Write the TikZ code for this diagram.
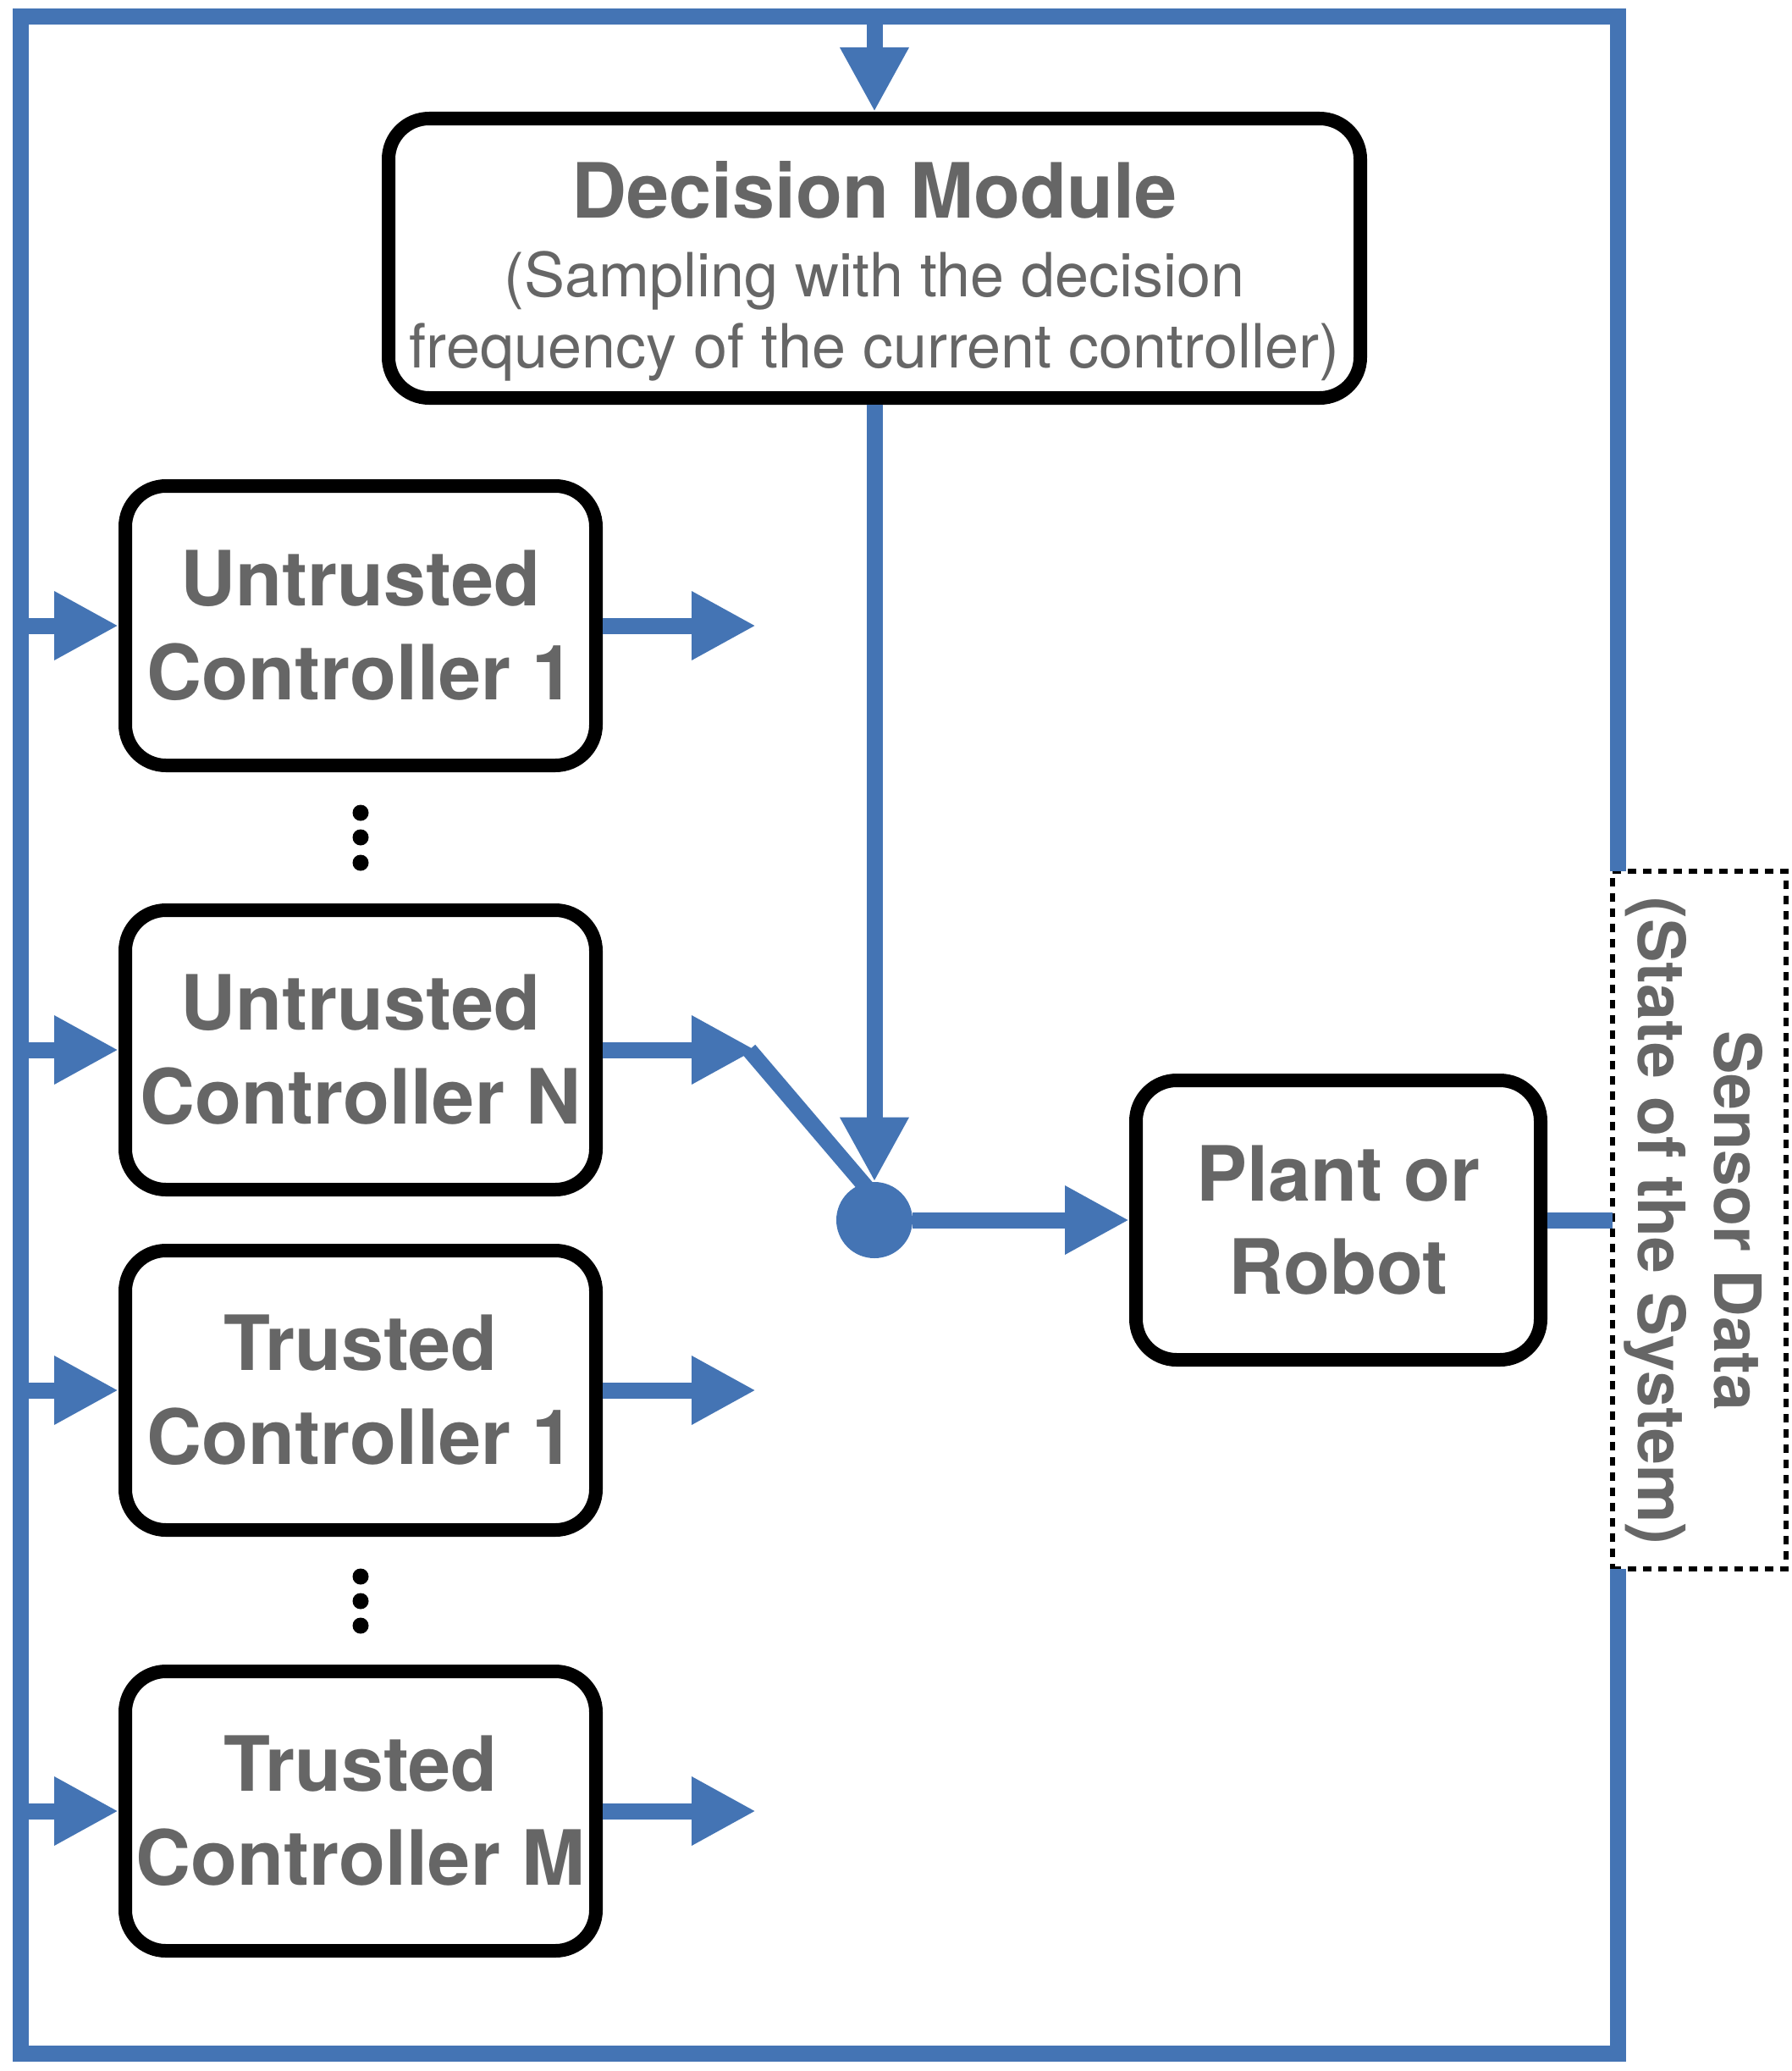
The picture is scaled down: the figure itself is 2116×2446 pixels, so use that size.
\documentclass[tikz,border=0pt]{standalone}
\usepackage{fontspec}
\setmainfont{TeX Gyre Heros}
\usetikzlibrary{arrows.meta}
\definecolor{fblue}{RGB}{68,116,180}
\definecolor{tgray}{RGB}{102,102,102}
\begin{document}
\begin{tikzpicture}[x=0.5pt,y=-0.5pt,
  flow/.style={draw=fblue,line width=9.5pt},
  arr/.style={flow,-{Triangle[length=38pt,width=38pt]}},
  box/.style={draw=black,line width=8pt,rounded corners=24pt,fill=white,align=center,text=tgray,inner sep=0pt},
  ctrl/.style={box,minimum width=278pt,minimum height=165pt,font=\fontsize{45}{55.5}\selectfont\bfseries},
  bigtxt/.style={anchor=base,text=tgray,inner sep=0pt,font=\fontsize{45}{54}\selectfont\bfseries},
  subtxt/.style={anchor=base,text=tgray,inner sep=0pt,font=\fontsize{36}{42}\selectfont},
  vdot/.style={circle,fill=black,minimum size=9.5pt,inner sep=0pt},
  sensorbox/.style={draw=black,line width=3pt,dash pattern=on 5pt off 4pt,minimum width=102.5pt,minimum height=412pt,inner sep=0pt,outer sep=0pt}]
\useasboundingbox (0,0) rectangle (2116,2446);
\fill[white] (0,0) rectangle (2116,2446);

% sensor box
\node[sensorbox] (sens) at (2007.5,1441) {};

% outer feedback frame
\coordinate (tl) at (24,20);
\coordinate (br) at (1911,2425);
\draw[flow,line join=miter] (br |- sens.north) -- (br |- tl) -- (tl) -- (tl |- br) -- (br) -- (br |- sens.south);

% decision module
\node[box,minimum width=574pt,minimum height=165pt] (dm) at (1033,305) {};
\node[bigtxt] (dmh) at (1033,257) {Decision Module};
\node[subtxt] (dms1) at (1033,350) {(Sampling with the decision};
\node[subtxt] (dms2) at (1033,434) {frequency of the current controller)};

% controllers
\node[ctrl] (uc1) at (426,739) {Untrusted\\Controller 1};
\node[ctrl] (ucn) at (426,1240) {Untrusted\\Controller N};
\node[ctrl] (tc1) at (426,1642) {Trusted\\Controller 1};
\node[ctrl] (tcm) at (426,2139) {Trusted\\Controller M};

% vertical ellipses
\node[vdot] (d1) at (426,960) {};
\node[vdot] (d2) at (426,989) {};
\node[vdot] (d3) at (426,1019) {};
\node[vdot] (d4) at (426,1862) {};
\node[vdot] (d5) at (426,1891) {};
\node[vdot] (d6) at (426,1920) {};

% inputs from frame
\draw[arr] (uc1.west -| tl) -- (uc1.west);
\draw[arr] (ucn.west -| tl) -- (ucn.west);
\draw[arr] (tc1.west -| tl) -- (tc1.west);
\draw[arr] (tcm.west -| tl) -- (tcm.west);

% outputs
\draw[arr] (uc1.east) -- ++(181,0);
\draw[arr] (ucn.east) -- ++(181,0) coordinate (sw);
\draw[arr] (tc1.east) -- ++(181,0);
\draw[arr] (tcm.east) -- ++(181,0);

% switch line, then the junction dot over it
\coordinate (swend) at (1030,1410);
\draw[flow] ([xshift=-4pt]sw) -- (swend);
\node[circle,fill=fblue,minimum size=45pt,inner sep=0pt] (dot) at (1033,1441) {};

% plant
\node[box,minimum width=239pt,minimum height=165pt,font=\fontsize{45}{55}\selectfont\bfseries] (plant) at (1581,1441) {Plant or\\Robot};

% sensor text
\node[rotate=-90,align=center,text=tgray,inner sep=0pt,font=\fontsize{38.5}{45}\selectfont\bfseries] (senst) at (2001,1442) {Sensor Data\\(State of the System)};

% top arrow into decision module
\draw[arr] (dm.north |- tl) -- (dm.north);

% decision to junction, junction to plant
\draw[arr] (dm.south) -- (dot.north);
\draw[arr] (dot.east) -- (plant.west);

% plant to sensor
\draw[flow] (plant.east) -- (plant.east -| sens.west);
\end{tikzpicture}
\end{document}
